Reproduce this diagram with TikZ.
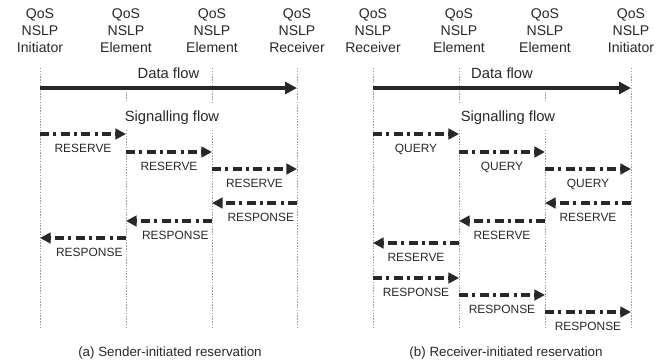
\documentclass[tikz,border=0pt]{standalone}
\usepackage{fontspec}
\setmainfont{Liberation Sans}
\usetikzlibrary{arrows.meta}
\definecolor{ink}{RGB}{40,40,40}
\tikzset{
    entity/.style={align=center, font=\fontsize{10}{12}\selectfont, text=ink},
    lifeline/.style={draw=gray!75, line width=0.4pt, dash pattern=on 1pt off 1pt},
    dataflow/.style={draw=ink, line width=2.8pt, -{Triangle[length=8.5pt,width=8.5pt]}},
    signal/.style={draw=ink, line width=2.3pt, dash pattern=on 6.5pt off 3pt on 2.2pt off 3pt,
        -{Triangle[length=7.5pt,width=7.5pt]}},
    msg/.style={font=\fontsize{8.5}{10}\selectfont, text=ink, inner sep=0pt},
    flowlabel/.style={font=\fontsize{10.5}{12}\selectfont, text=ink},
    caption/.style={font=\fontsize{9.5}{11}\selectfont, text=ink}
}
\begin{document}
\begin{tikzpicture}[x=0.025cm, y=-0.025cm]
    \useasboundingbox (0,0) rectangle (667,362);
    % entities, sender-initiated (s) and receiver-initiated (r)
    \node[entity] (sIni) at (40,31) {QoS\\NSLP\\Initiator};
    \node[entity] (sEl1) at (126,31) {QoS\\NSLP\\Element};
    \node[entity] (sEl2) at (212,31) {QoS\\NSLP\\Element};
    \node[entity] (sRcv) at (297,31) {QoS\\NSLP\\Receiver};
    \node[entity] (rRcv) at (373,31) {QoS\\NSLP\\Receiver};
    \node[entity] (rEl1) at (459,31) {QoS\\NSLP\\Element};
    \node[entity] (rEl2) at (545,31) {QoS\\NSLP\\Element};
    \node[entity] (rIni) at (631,31) {QoS\\NSLP\\Initiator};
    % lifelines, broken where the flow titles sit
    \foreach \n/\a/\b in {sIni/68/329, sEl1/86/102, sEl1/130/329, sEl2/68/102, sEl2/130/329,
        sRcv/68/329, rRcv/68/329, rEl1/68/102, rEl1/130/329, rEl2/86/102, rEl2/130/329,
        rIni/68/329}
        \draw[lifeline] (\n |- 0,\a) -- (\n |- 0,\b);
    % data flow
    \draw[dataflow] (sIni |- 0,88) -- node[flowlabel, midway, above=2pt] (sData) {Data flow} (sRcv |- 0,88);
    \draw[dataflow] (rRcv |- 0,88) -- node[flowlabel, midway, above=2pt] (rData) {Data flow} (rIni |- 0,88);
    \node[flowlabel] (sSig) at (172,118) {Signalling flow};
    \node[flowlabel] (rSig) at (508,118) {Signalling flow};
    % signalling messages
    \foreach \a/\b/\y/\txt/\dx in {sIni/sEl1/134/RESERVE/0pt, sEl1/sEl2/152/RESERVE/0pt,
        sEl2/sRcv/169/RESERVE/0pt, sRcv/sEl2/203/RESPONSE/4.5pt, sEl2/sEl1/221/RESPONSE/4.5pt,
        sEl1/sIni/238/RESPONSE/4.5pt,
        rRcv/rEl1/134/QUERY/0pt, rEl1/rEl2/152/QUERY/0pt, rEl2/rIni/169/QUERY/0pt,
        rIni/rEl2/203/RESERVE/0pt, rEl2/rEl1/221/RESERVE/0pt, rEl1/rRcv/243/RESERVE/0pt,
        rRcv/rEl1/278/RESPONSE/0pt, rEl1/rEl2/295/RESPONSE/0pt, rEl2/rIni/312/RESPONSE/0pt}
        \draw[signal] (\a |- 0,\y) -- node[msg, midway, below=6pt, xshift=\dx] {\txt} (\b |- 0,\y);
    \node[caption] (sCap) at (170,353) {(a) Sender-initiated reservation};
    \node[caption] (rCap) at (506,353) {(b) Receiver-initiated reservation};
\end{tikzpicture}
\end{document}
